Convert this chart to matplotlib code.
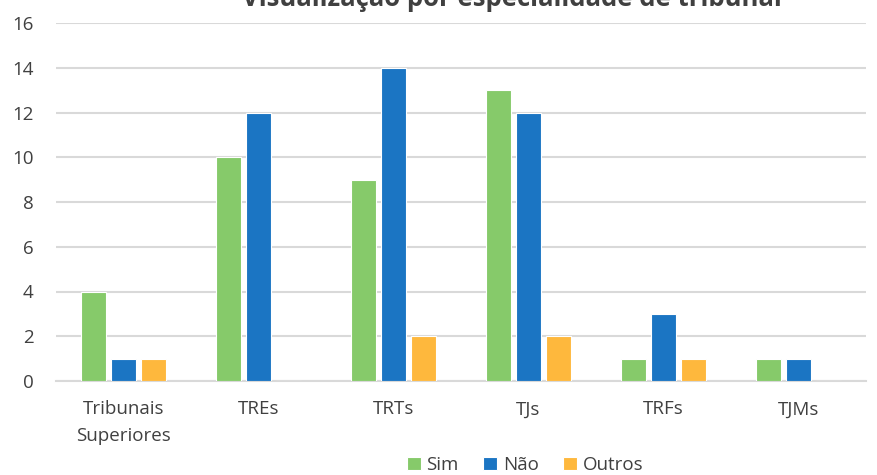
import matplotlib
matplotlib.use("Agg")
import matplotlib.pyplot as plt
import numpy as np

categories = ["Tribunais\nSuperiores", "TREs", "TRTs", "TJs", "TRFs", "TJMs"]
sim = [4, 10, 9, 13, 1, 1]
nao = [1, 12, 14, 12, 3, 1]
outros = [1, 0, 2, 2, 1, 0]
series_names = ["Sim", "Não", "Outros"]
colors = ["#86CA6A", "#1B75C3", "#FEB83D"]
title = "Visualização por especialidade de tribunal"

plt.rcParams['font.family'] = ['Open Sans', 'DejaVu Sans']

fig = plt.figure(figsize=(8.78, 4.75), dpi=100)
ax = fig.add_axes([56/878, 1-381/475, 810/878, (381-23)/475])

x = np.arange(len(categories))
w = 0.18
step = 0.222
for i, (vals, name, c) in enumerate(zip([sim, nao, outros], series_names, colors)):
    ax.bar(x + (i-1)*step, vals, width=w, color=c, edgecolor="white", linewidth=0.8, label=name, zorder=3)

ax.set_xlim(-0.5, len(categories)-0.5)
ax.set_ylim(0, 16)
ax.set_yticks(range(0, 17, 2))
ax.set_xticks(x)
ax.set_xticklabels(categories, linespacing=1.6)
ax.grid(axis='y', color='#D9D9D9', linewidth=1.5, zorder=0)
for s in ['top', 'right', 'left']:
    ax.spines[s].set_visible(False)
ax.spines['bottom'].set_color('#D9D9D9')
ax.spines['bottom'].set_linewidth(1.5)
ax.tick_params(axis='both', length=0, labelsize=13.5, colors='#404040')
ax.tick_params(axis='y', pad=16)
ax.tick_params(axis='x', pad=14)

fig.text(512/878, 1-6/475, title, ha='center', va='baseline', fontsize=18.5,
         fontweight='bold', color='#404040')

leg = fig.legend(loc='center', bbox_to_anchor=(525/878, 1-465/475), ncol=3, frameon=False,
                 fontsize=13.5, handlelength=0.75, handleheight=0.75, handletextpad=0.3,
                 columnspacing=1.3, labelcolor='#404040')

fig.savefig("out.png", dpi=100)
